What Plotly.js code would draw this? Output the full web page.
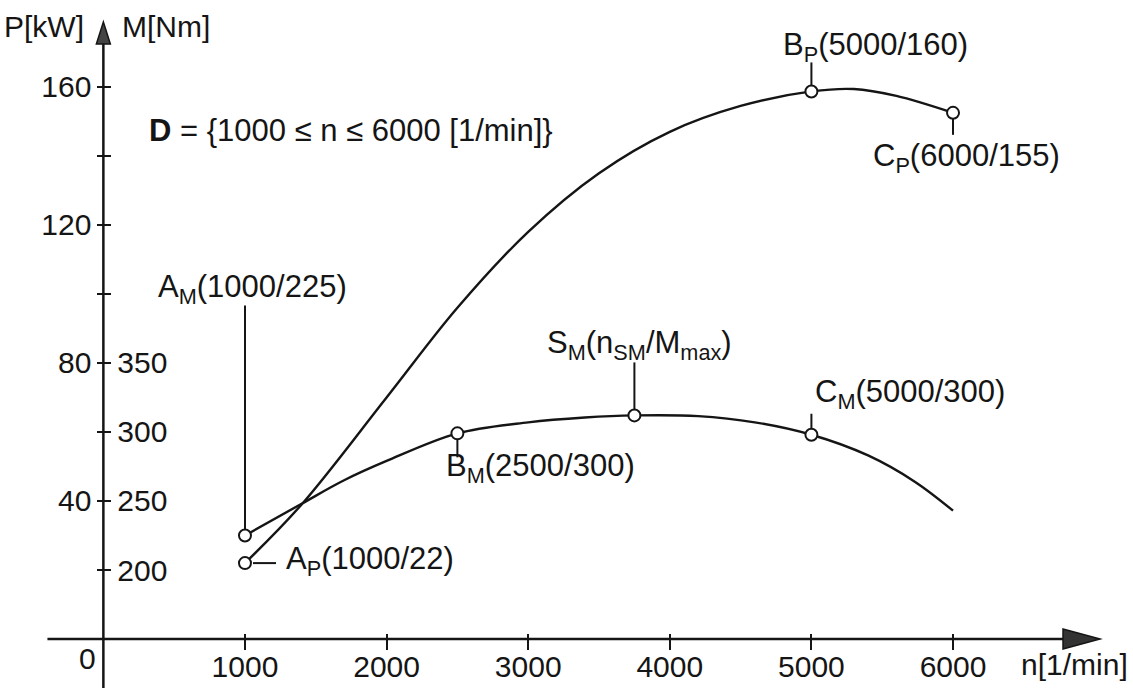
<!DOCTYPE html>
<html><head><meta charset="utf-8">
<script src="https://cdn.plot.ly/plotly-3.0.1.min.js"></script>
<style>html,body{margin:0;padding:0;background:#fff;}#chart{width:1133px;height:688px;}</style>
</head><body><div id="chart"></div>
<script>
// ---- data ----
// torque curve M(n)  [n in 1/min, M in Nm]
const torqueN = [1000, 1400, 1700, 2000, 2500, 3000, 3400, 3750, 4200, 4600, 5000, 5400, 5730, 6000];
const torqueM = [225, 248, 265, 279, 299, 307, 310.5, 312, 311.5, 307, 298, 283, 264, 243];
// power curve P(n)  [kW]
const powerN = [1000, 1400, 2000, 2500, 3000, 3500, 4000, 4500, 5000, 5300, 5600, 6000];
const powerP = [22, 39, 70, 96, 118, 135, 147, 154.5, 158.7, 159.4, 157.4, 152.5];
// marked points
const torquePointN = [1000, 2500, 3750, 5000];
const torquePointM = [225, 299, 312, 298];
const torquePointLabel = ['A<sub>M</sub>(1000/225)', 'B<sub>M</sub>(2500/300)', 'S<sub>M</sub>(n<sub>SM</sub>/M<sub>max</sub>)', 'C<sub>M</sub>(5000/300)'];
const powerPointN = [1000, 5000, 6000];
const powerPointP = [22, 158.7, 152.5];
const powerPointLabel = ['A<sub>P</sub>(1000/22)', 'B<sub>P</sub>(5000/160)', 'C<sub>P</sub>(6000/155)'];
// ticks
const nTickVals = [1000, 2000, 3000, 4000, 5000, 6000];
const pTickVals = [40, 80, 120, 160];
const pMinorTickVals = [20, 60, 100, 140];
const mTickVals = [200, 250, 300, 350];
const mMinorTickVals = [400, 450, 500, 550];
const domainText = '<b>D</b> = {1000 ≤ n ≤ 6000 [1/min]}';

// ---- layout / style ----
const INK = '#151515';
const FONT = 'Liberation Sans, Arial, Helvetica, sans-serif';
const xRange = [-730, 7271];
const pRange = [-14.2, 185.2];
const p2m = p => 150 + 2.5 * p;           // scale relation of the two y scales
const mRange = pRange.map(p2m);
const xAxisPos = (0 - pRange[0]) / (pRange[1] - pRange[0]);
const yAxisPos = (0 - xRange[0]) / (xRange[1] - xRange[0]);

const tickFont = {family: FONT, size: 30, color: INK};
const labelFont = {family: FONT, size: 31, color: INK};

const traces = [
  {x: torqueN, y: torqueM, yaxis: 'y2', mode: 'lines', line: {color: INK, width: 2.4, shape: 'spline', smoothing: 1}, hoverinfo: 'skip'},
  {x: powerN, y: powerP, mode: 'lines', line: {color: INK, width: 2.4, shape: 'spline', smoothing: 1}, hoverinfo: 'skip'},
  {x: torquePointN, y: torquePointM, yaxis: 'y2', mode: 'markers', marker: {size: 12, color: '#fff', line: {color: INK, width: 2}}, hoverinfo: 'skip'},
  {x: powerPointN, y: powerPointP, mode: 'markers', marker: {size: 12, color: '#fff', line: {color: INK, width: 2}}, hoverinfo: 'skip'},
  {x: [], y: [], xaxis: 'x2', mode: 'markers', hoverinfo: 'skip'}
];

// leader lines (pixel offsets from the marked point) and label offsets
const torqueLeader = [[0, 230], [0, -24], [0, 53], [0, 21]];
const powerLeader = [[0, 0, 8, 31], [0, 29], [0, -22]];
const torqueLabelShift = [[-89, 246], [-13, -35], [-89, 70], [2, 41]];
const powerLabelShift = [[39, 2], [-30, 44], [-82, -45]];

const shapes = [];
const annotations = [];
torquePointN.forEach((n, i) => {
  shapes.push({type: 'line', layer: 'below', xref: 'x', yref: 'y2', xsizemode: 'scaled', ysizemode: 'pixel',
    x0: n, x1: n, yanchor: torquePointM[i], y0: torqueLeader[i][0], y1: torqueLeader[i][1], line: {color: INK, width: 2}});
  annotations.push({xref: 'x', yref: 'y2', x: n, y: torquePointM[i], text: torquePointLabel[i], showarrow: false,
    xanchor: 'left', yanchor: 'middle', xshift: torqueLabelShift[i][0], yshift: torqueLabelShift[i][1], font: labelFont});
});
powerPointN.forEach((n, i) => {
  const ld = powerLeader[i];
  if (ld.length === 4) {
    shapes.push({type: 'line', layer: 'below', xref: 'x', yref: 'y', xsizemode: 'pixel', xanchor: n,
      x0: ld[2], x1: ld[3], y0: powerPointP[i], y1: powerPointP[i], line: {color: INK, width: 2}});
  } else {
    shapes.push({type: 'line', layer: 'below', xref: 'x', yref: 'y', ysizemode: 'pixel', yanchor: powerPointP[i],
      x0: n, x1: n, y0: ld[0], y1: ld[1], line: {color: INK, width: 2}});
  }
  annotations.push({xref: 'x', yref: 'y', x: n, y: powerPointP[i], text: powerPointLabel[i], showarrow: false,
    xanchor: 'left', yanchor: 'middle', xshift: powerLabelShift[i][0], yshift: powerLabelShift[i][1], font: labelFont});
});

// axis lines with arrow heads
const xEnd = 7038, yEnd = 178.8;
shapes.push({type: 'line', xref: 'x', yref: 'y', x0: -395, x1: 6800, y0: 0, y1: 0, line: {color: INK, width: 2.5}});
shapes.push({type: 'path', xref: 'x', yref: 'y', xsizemode: 'pixel', ysizemode: 'pixel', xanchor: xEnd, yanchor: 0,
  path: 'M0,0 L-37,10 L-37,-10 Z', fillcolor: '#333', line: {color: INK, width: 1.5}});
shapes.push({type: 'line', xref: 'x', yref: 'y', x0: 0, x1: 0, y0: -15, y1: 173, line: {color: INK, width: 2.5}});
shapes.push({type: 'path', xref: 'x', yref: 'y', xsizemode: 'pixel', ysizemode: 'pixel', xanchor: 0, yanchor: yEnd,
  path: 'M0,0 L-7,-22 L7,-22 Z', fillcolor: '#444', line: {color: INK, width: 1.5}});

// free texts
const paperX = px => px / 1133, paperY = py => 1 - py / 688;
annotations.push({xref: 'paper', yref: 'paper', x: paperX(147), y: paperY(130), xanchor: 'left', yanchor: 'middle', text: domainText, showarrow: false, font: labelFont});
annotations.push({xref: 'paper', yref: 'paper', x: paperX(2), y: paperY(27), xanchor: 'left', yanchor: 'middle', text: 'P[kW]', showarrow: false, font: tickFont});
annotations.push({xref: 'paper', yref: 'paper', x: paperX(120), y: paperY(27), xanchor: 'left', yanchor: 'middle', text: 'M[Nm]', showarrow: false, font: tickFont});
annotations.push({xref: 'paper', yref: 'paper', x: paperX(1130), y: paperY(664), xanchor: 'right', yanchor: 'middle', text: 'n[1/min]', showarrow: false, font: tickFont});
annotations.push({xref: 'paper', yref: 'paper', x: paperX(87), y: paperY(658), xanchor: 'center', yanchor: 'middle', text: '0', showarrow: false, font: tickFont});

const commonAxis = {showgrid: false, zeroline: false, showline: false, automargin: false, fixedrange: true,
  tickcolor: INK, tickwidth: 2, tickfont: tickFont};

const layout = {
  width: 1133, height: 688,
  margin: {l: 0, r: 0, t: 0, b: 0, pad: 0},
  paper_bgcolor: '#fff', plot_bgcolor: '#fff',
  showlegend: false,
  xaxis: Object.assign({}, commonAxis, {range: xRange, anchor: 'free', position: xAxisPos, side: 'bottom',
    tickmode: 'array', tickvals: nTickVals, ticktext: nTickVals.map(String), ticks: 'outside', ticklen: 10,
    ticklabelstandoff: -9}),
  xaxis2: Object.assign({}, commonAxis, {range: xRange, overlaying: 'x', anchor: 'free', position: xAxisPos, side: 'top',
    tickmode: 'array', tickvals: nTickVals, showticklabels: false, ticks: 'outside', ticklen: 5}),
  yaxis: Object.assign({}, commonAxis, {range: pRange, anchor: 'free', position: yAxisPos, side: 'left',
    tickmode: 'array', tickvals: pTickVals, ticktext: pTickVals.map(String), ticks: 'outside', ticklen: 6,
    minor: {tickmode: 'array', tickvals: pMinorTickVals, ticks: 'outside', ticklen: 6, tickwidth: 2, tickcolor: INK, showgrid: false}}),
  yaxis2: Object.assign({}, commonAxis, {range: mRange, overlaying: 'y', anchor: 'free', position: yAxisPos, side: 'right',
    tickmode: 'array', tickvals: mTickVals, ticktext: mTickVals.map(String), ticks: 'outside', ticklen: 7,
    minor: {tickmode: 'array', tickvals: mMinorTickVals, ticks: 'outside', ticklen: 7, tickwidth: 2, tickcolor: INK, showgrid: false}}),
  shapes: shapes,
  annotations: annotations
};

Plotly.newPlot('chart', traces, layout, {staticPlot: true, displayModeBar: false});
</script></body></html>
